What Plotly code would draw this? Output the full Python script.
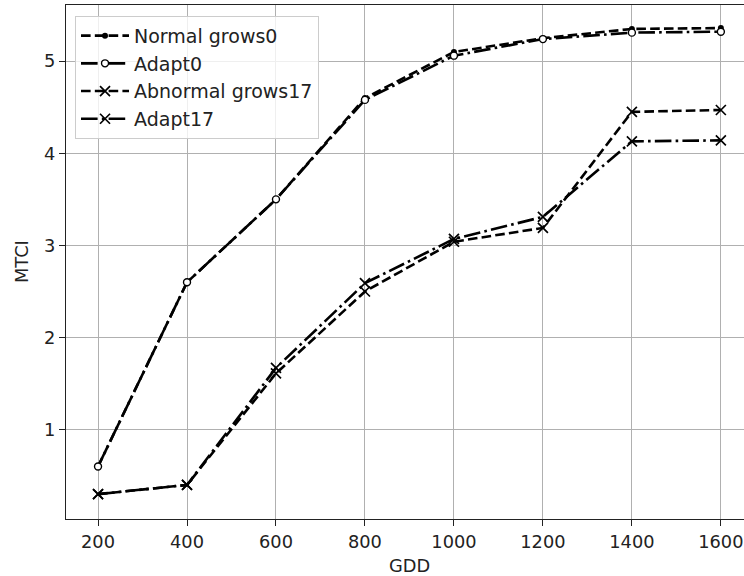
import plotly.graph_objects as go

# ---- data ----
gdd = [200, 400, 600, 800, 1000, 1200, 1400, 1600]
normal_grows0 = [0.6, 2.6, 3.5, 4.6, 5.1, 5.25, 5.35, 5.36]
adapt0 = [0.6, 2.6, 3.5, 4.58, 5.06, 5.24, 5.31, 5.32]
abnormal_grows17 = [0.3, 0.4, 1.61, 2.5, 3.04, 3.19, 4.45, 4.47]
adapt17 = [0.3, 0.4, 1.67, 2.59, 3.07, 3.31, 4.13, 4.14]
x_ticks = [200, 400, 600, 800, 1000, 1200, 1400, 1600]
y_ticks = [1, 2, 3, 4, 5]

FONT = "DejaVu Sans"
FS = 17.8
LFS = 19
LW = 2.6
DASH = "9.6px,4.2px"
DASHDOT = "16.6px,4.2px,2.6px,4.2px"

fig = go.Figure()
fig.add_trace(go.Scatter(
    x=gdd, y=normal_grows0, name="Normal grows0", mode="lines+markers", legendgroup="a",
    line=dict(color="black", width=LW, dash=DASH),
    marker=dict(symbol="circle", size=6, color="black", line=dict(width=0))))
fig.add_trace(go.Scatter(
    x=gdd, y=adapt0, name="Adapt0", mode="lines+markers", legendgroup="b",
    line=dict(color="black", width=LW, dash=DASHDOT),
    marker=dict(symbol="circle", size=7, color="white", line=dict(color="black", width=1.4))))
fig.add_trace(go.Scatter(
    x=gdd, y=abnormal_grows17, name="Abnormal grows17", mode="lines+markers", legendgroup="c",
    line=dict(color="black", width=LW, dash=DASH),
    marker=dict(symbol="x-thin-open", size=10, color="black", line=dict(color="black", width=1.7))))
fig.add_trace(go.Scatter(
    x=gdd, y=adapt17, name="Adapt17", mode="lines+markers", legendgroup="d",
    line=dict(color="black", width=LW, dash=DASHDOT),
    marker=dict(symbol="x-thin-open", size=10, color="black", line=dict(color="black", width=1.7))))

axis_common = dict(
    showgrid=True, gridcolor="#b0b0b0", gridwidth=1.4,
    showline=True, linecolor="#222222", linewidth=1.4,
    ticks="outside", ticklen=6, tickwidth=1.4, tickcolor="#222222",
    zeroline=False, tickfont=dict(family=FONT, size=FS, color="#222222"),
)

fig.update_layout(
    width=744, height=576,
    margin=dict(l=66, r=0, t=5, b=57),
    paper_bgcolor="white", plot_bgcolor="white",
    font=dict(family=FONT, size=FS, color="#222222"),
    xaxis=dict(range=[128, 1652], tickvals=x_ticks, mirror=True, **axis_common),
    yaxis=dict(range=[0.03, 5.61], tickvals=y_ticks, mirror=False, **axis_common),
    showlegend=True,
    legend=dict(
        x=0.0133, y=0.979, xanchor="left", yanchor="top",
        bgcolor="rgba(255,255,255,0.8)", bordercolor="#cccccc", borderwidth=1,
        font=dict(family=FONT, size=LFS, color="#222222"),
        tracegroupgap=0, itemwidth=48,
    ),
    annotations=[
        dict(text="GDD", xref="paper", yref="paper", x=0.506, y=0, yshift=-46,
             xanchor="center", yanchor="middle", showarrow=False,
             font=dict(family=FONT, size=FS, color="#222222")),
        dict(text="MTCI", xref="paper", yref="paper", x=0, xshift=-45, y=0.5,
             xanchor="center", yanchor="middle", showarrow=False, textangle=-90,
             font=dict(family=FONT, size=FS, color="#222222")),
    ],
)

fig.write_html("out.html")
